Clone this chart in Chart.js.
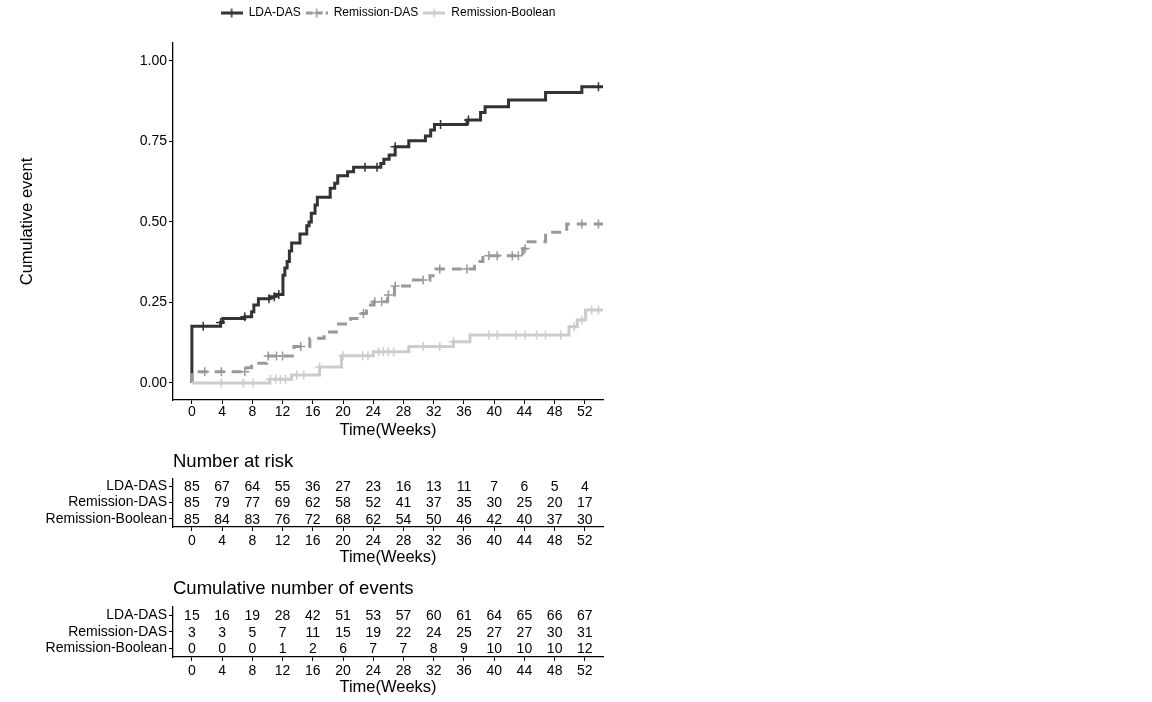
<!DOCTYPE html>
<html lang="en">
<head>
<meta charset="UTF-8">
<title>Cumulative event</title>
<script src="https://cdn.jsdelivr.net/npm/chart.js"></script>
<style>
  body { margin: 0; background: #fff; }
  .box { position: absolute; left: 0; width: 620px; }
  #mainBox { top: 0; height: 445px; }
  #riskBox { top: 440px; height: 135px; }
  #eventBox { top: 570px; height: 132px; }
</style>
</head>
<body>
<div class="box" id="mainBox"><canvas id="mainChart"></canvas></div>
<div class="box" id="riskBox"><canvas id="riskChart"></canvas></div>
<div class="box" id="eventBox"><canvas id="eventChart"></canvas></div>

<script>
// groups and axis ticks
const groups = ["LDA-DAS", "Remission-DAS", "Remission-Boolean"];
const weekTicks = [0, 4, 8, 12, 16, 20, 24, 28, 32, 36, 40, 44, 48, 52];
const yTicks = [0, 0.25, 0.5, 0.75, 1];

// step curves (time in weeks, cumulative event)
const ldaTimes = [0, 0, 3.8, 4.1, 7.0, 7.9, 8.2, 8.8, 10.3, 11.0, 12.05, 12.3, 12.6, 12.9, 13.2, 14.3, 15.2, 15.5, 15.8, 16.3, 16.6, 18.3, 18.9, 19.3, 20.6, 21.4, 25.0, 25.4, 26.1, 26.9, 28.7, 30.9, 31.6, 32.1, 36.4, 38.2, 38.8, 41.9, 46.8, 51.6, 54.4];
const ldaValues = [0, 0.176, 0.188, 0.2, 0.206, 0.221, 0.242, 0.262, 0.268, 0.275, 0.335, 0.357, 0.377, 0.41, 0.435, 0.463, 0.488, 0.5, 0.527, 0.553, 0.577, 0.605, 0.62, 0.644, 0.656, 0.67, 0.682, 0.695, 0.708, 0.734, 0.752, 0.767, 0.786, 0.803, 0.817, 0.84, 0.858, 0.879, 0.902, 0.92, 0.92];
const ldaCensored = [1.5, 3.8, 7.0, 10.2, 10.9, 11.5, 22.9, 24.5, 26.9, 32.9, 36.6, 53.8];

const dasTimes = [0, 0, 7.2, 7.9, 9.9, 13.5, 15.6, 17.5, 19.1, 21.0, 22.5, 23.1, 24.0, 25.9, 26.8, 29.0, 31.5, 32.3, 37.4, 38.5, 43.8, 44.2, 46.8, 49.6, 54.4];
const dasValues = [0, 0.035, 0.047, 0.061, 0.084, 0.113, 0.139, 0.158, 0.183, 0.2, 0.216, 0.242, 0.252, 0.273, 0.301, 0.32, 0.333, 0.354, 0.377, 0.395, 0.418, 0.439, 0.468, 0.494, 0.494];
const dasCensored = [1.7, 3.9, 7.0, 10.1, 11.2, 12.0, 14.4, 22.7, 24.2, 25.1, 26.0, 26.9, 30.6, 32.8, 36.4, 39.3, 40.4, 42.4, 43.2, 44.1, 51.6, 53.8];

const boolTimes = [0, 10.3, 13.2, 16.9, 19.8, 24.0, 28.7, 34.6, 36.8, 49.9, 51.0, 52.1, 54.4];
const boolValues = [0, 0.012, 0.025, 0.05, 0.085, 0.097, 0.113, 0.128, 0.149, 0.175, 0.196, 0.227, 0.227];
const boolCensored = [3.9, 6.8, 8.1, 10.4, 11.1, 11.7, 12.4, 13.9, 14.8, 16.9, 20.0, 22.6, 23.3, 24.7, 25.3, 26.0, 26.7, 30.6, 32.8, 34.6, 39.3, 40.4, 42.9, 44.1, 45.6, 46.8, 48.8, 50.6, 51.6, 52.9, 53.8];

// tables
const riskLDA = [85, 67, 64, 55, 36, 27, 23, 16, 13, 11, 7, 6, 5, 4];
const riskDAS = [85, 79, 77, 69, 62, 58, 52, 41, 37, 35, 30, 25, 20, 17];
const riskBool = [85, 84, 83, 76, 72, 68, 62, 54, 50, 46, 42, 40, 37, 30];
const eventsLDA = [15, 16, 19, 28, 42, 51, 53, 57, 60, 61, 64, 65, 66, 67];
const eventsDAS = [3, 3, 5, 7, 11, 15, 19, 22, 24, 25, 27, 27, 30, 31];
const eventsBool = [0, 0, 0, 1, 2, 6, 7, 7, 8, 9, 10, 10, 10, 12];

const colors = ["#333333", "#999999", "#cccccc"];
const dashes = [[], [10, 7], []];

Chart.defaults.font.family = '"Liberation Sans", Arial, sans-serif';
Chart.defaults.color = "#000";
Chart.defaults.animation = false;

// value of a step curve at time t
function valueAt(times, values, t) {
    let v = values[0];
    for (let i = 0; i < times.length; i++) {
        if (times[i] <= t) v = values[i];
    }
    return v;
}

// little legend key: line with a censor cross
function makeKey(color, dash) {
    let c = document.createElement("canvas");
    c.width = 22; c.height = 11;
    let g = c.getContext("2d");
    g.strokeStyle = color;
    g.lineWidth = 3;
    if (dash.length) g.setLineDash([7, 3]);
    g.beginPath(); g.moveTo(0, 5.5); g.lineTo(22, 5.5); g.stroke();
    g.setLineDash([]);
    g.lineWidth = 1.5;
    g.beginPath();
    g.moveTo(11, 1); g.lineTo(11, 10);
    g.moveTo(6.5, 5.5); g.lineTo(15.5, 5.5);
    g.stroke();
    return c;
}

function weekAxis(height, tickPad, titleBottom) {
    return {
        type: "linear",
        min: -2.5,
        max: 54.4,
        afterBuildTicks: s => { s.ticks = weekTicks.map(v => ({ value: v })); },
        afterFit: s => { s.height = height; },
        ticks: { font: { size: 14 }, padding: tickPad, maxRotation: 0, autoSkip: false },
        grid: { drawOnChartArea: false, tickLength: 4, color: "#000", lineWidth: 1 },
        border: { color: "#000", width: 1.3 },
        title: { display: true, text: "Time(Weeks)", font: { size: 16.5 }, padding: { top: 0, bottom: titleBottom } }
    };
}

// legend gets a fixed height so the panel starts where it should
const legendHeight = {
    id: "legendHeight",
    beforeInit(chart) {
        const fit = chart.legend.fit;
        chart.legend.fit = function () {
            fit.call(this);
            this.height = 41;
        };
    }
};

const curves = [
    [ldaTimes, ldaValues, ldaCensored],
    [dasTimes, dasValues, dasCensored],
    [boolTimes, boolValues, boolCensored]
];

let mainSets = curves.map((c, i) => ({
    label: groups[i],
    data: c[0].map((t, j) => ({ x: t, y: c[1][j] })),
    showLine: true,
    stepped: true,
    borderColor: colors[i],
    backgroundColor: colors[i],
    borderWidth: 3,
    borderDash: dashes[i],
    pointRadius: 0,
    pointStyle: makeKey(colors[i], dashes[i]),
    order: 6 - i
}));
curves.forEach((c, i) => {
    mainSets.push({
        label: groups[i] + " censored",
        data: c[2].map(t => ({ x: t, y: valueAt(c[0], c[1], t) })),
        showLine: false,
        pointStyle: "cross",
        pointRadius: 4.5,
        pointBorderWidth: 1.5,
        borderColor: colors[i],
        order: 3 - i
    });
});

new Chart(document.getElementById("mainChart"), {
    type: "scatter",
    data: { datasets: mainSets },
    options: {
        responsive: true,
        maintainAspectRatio: false,
        layout: { padding: { left: 0, right: 17, top: 2, bottom: 0 } },
        scales: {
            x: weekAxis(45, 0, 5),
            y: {
                min: -0.0528,
                max: 1.0559,
                afterBuildTicks: s => { s.ticks = yTicks.map(v => ({ value: v })); },
                afterFit: s => { s.width = 173; },
                ticks: { font: { size: 14 }, padding: 2, callback: v => Number(v).toFixed(2) },
                grid: { drawOnChartArea: false, tickLength: 4, color: "#000", lineWidth: 1 },
                border: { color: "#000", width: 1.3 },
                title: { display: true, text: "Cumulative event", font: { size: 16.5 }, padding: { top: 18, bottom: 0 } }
            }
        },
        plugins: {
            legend: {
                position: "top",
                fullSize: false,
                labels: {
                    usePointStyle: true,
                    pointStyleWidth: 22,
                    font: { size: 12 },
                    padding: 5,
                    filter: item => item.datasetIndex < 3,
                    sort: (a, b) => a.datasetIndex - b.datasetIndex
                }
            },
            tooltip: { enabled: false }
        }
    },
    plugins: [legendHeight]
});

// numbers in the tables are written at the points of an invisible scatter
const cellText = {
    id: "cellText",
    afterDatasetsDraw(chart) {
        const ctx = chart.ctx;
        ctx.save();
        ctx.font = '14px "Liberation Sans", Arial, sans-serif';
        ctx.fillStyle = "#000";
        ctx.textAlign = "center";
        ctx.textBaseline = "middle";
        chart.data.datasets.forEach((ds, i) => {
            chart.getDatasetMeta(i).data.forEach((pt, j) => {
                ctx.fillText(String(ds.data[j].v), pt.x, pt.y + 1);
            });
        });
        ctx.restore();
    }
};

function tableChart(id, titleText, rows, titlePad, tickPad, titleBottom, axisHeight) {
    return new Chart(document.getElementById(id), {
        type: "scatter",
        data: {
            datasets: rows.map((r, i) => ({
                label: groups[i],
                data: weekTicks.map((w, j) => ({ x: w, y: groups[i], v: r[j] })),
                pointRadius: 0
            }))
        },
        options: {
            responsive: true,
            maintainAspectRatio: false,
            layout: { padding: { left: 0, right: 17, top: 0, bottom: 0 } },
            scales: {
                x: weekAxis(axisHeight, tickPad, titleBottom),
                y: {
                    type: "category",
                    labels: groups,
                    offset: true,
                    afterFit: s => { s.width = 173; },
                    ticks: { font: { size: 14 }, padding: 2, autoSkip: false },
                    grid: { drawOnChartArea: false, offset: false, tickLength: 4, color: "#000", lineWidth: 1 },
                    border: { color: "#000", width: 1.3 }
                }
            },
            plugins: {
                legend: { display: false },
                tooltip: { enabled: false },
                title: {
                    display: true,
                    text: titleText,
                    align: "start",
                    fullSize: false,
                    color: "#000",
                    font: { size: 18.5, weight: "normal" },
                    padding: titlePad
                }
            }
        },
        plugins: [cellText]
    });
}

tableChart("riskChart", "Number at risk", [riskLDA, riskDAS, riskBool], { top: 11, bottom: 5 }, 2, 8, 48);
tableChart("eventChart", "Cumulative number of events", [eventsLDA, eventsDAS, eventsBool], { top: 8, bottom: 6.5 }, 2, 5, 45);
</script>
</body>
</html>
